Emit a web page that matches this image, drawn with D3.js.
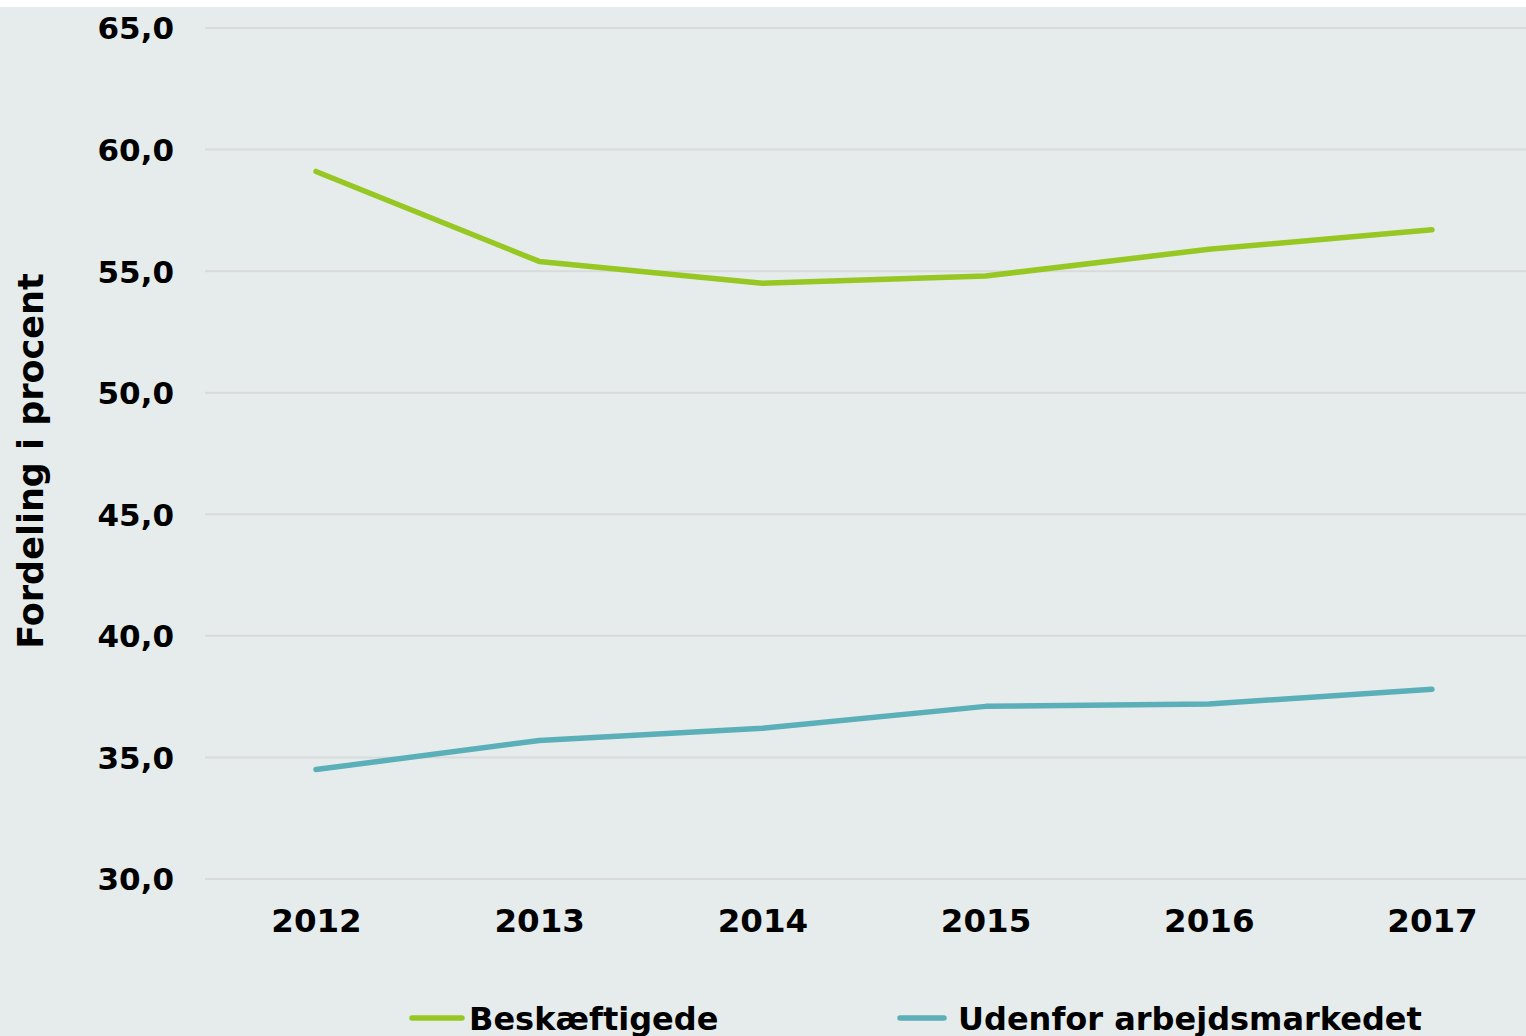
<!DOCTYPE html>
<html>
<head>
<meta charset="utf-8">
<script src="https://cdn.jsdelivr.net/npm/d3@7"></script>
<style>
  body { margin: 0; background: #fff; }
  svg { display: block; }
  text { font-family: "DejaVu Sans", Verdana, sans-serif; font-weight: bold; fill: #000; }
</style>
</head>
<body>
<main></main>
<script>
// data
const years = ["2012", "2013", "2014", "2015", "2016", "2017"];
const beskaeftigede = [59.1, 55.4, 54.5, 54.8, 55.9, 56.7];
const udenfor = [34.5, 35.7, 36.2, 37.1, 37.2, 37.8];
const seriesNames = ["Beskæftigede", "Udenfor arbejdsmarkedet"];
const yTicks = [30, 35, 40, 45, 50, 55, 60, 65];

const width = 1526;
const height = 1036;

const svg = d3.select("main")
  .append("svg")
  .attr("width", width)
  .attr("height", height);

// background panel
svg.append("rect")
  .attr("x", 0)
  .attr("y", 7)
  .attr("width", width)
  .attr("height", height - 7)
  .style("fill", "#e6ecec");

const xScale = d3.scalePoint()
  .domain(years)
  .range([316, 1432]);

const yScale = d3.scaleLinear()
  .domain([30, 65])
  .range([879, 28]);

// gridlines
svg.append("g")
  .selectAll("line")
  .data(yTicks)
  .enter()
  .append("line")
  .attr("x1", 205)
  .attr("x2", width)
  .attr("y1", d => yScale(d))
  .attr("y2", d => yScale(d))
  .style("stroke", "#d8dadb")
  .style("stroke-width", 2);

// y axis
const y_axis = d3.axisLeft(yScale)
  .tickValues(yTicks)
  .tickSize(0)
  .tickPadding(0)
  .tickFormat(d => d3.format(".1f")(d).replace(".", ","));

svg.append("g")
  .attr("transform", "translate(174,0)")
  .call(y_axis)
  .call(g => g.select(".domain").remove())
  .selectAll("text")
  .style("font-size", "31px")
  .attr("dy", "0.35em");

// x axis
const x_axis = d3.axisBottom(xScale)
  .tickSize(0)
  .tickPadding(0);

svg.append("g")
  .attr("transform", "translate(0,921)")
  .call(x_axis)
  .call(g => g.select(".domain").remove())
  .selectAll("text")
  .style("font-size", "32.5px")
  .attr("dy", "0.35em");

// y title
svg.append("text")
  .attr("transform", "translate(43,461) rotate(-90)")
  .attr("text-anchor", "middle")
  .style("font-size", "35px")
  .text("Fordeling i procent");

const line = d3.line()
  .x((d, i) => xScale(years[i]))
  .y(d => yScale(d));

const colors = ["#97c723", "#5bafb8"];

[beskaeftigede, udenfor].forEach((s, i) => {
  svg.append("path")
    .datum(s)
    .attr("d", line)
    .style("fill", "none")
    .style("stroke", colors[i])
    .style("stroke-width", 5.5)
    .style("stroke-linecap", "round")
    .style("stroke-linejoin", "round");
});

// legend
const legendX = [410, 898];
const legend = svg.append("g");
seriesNames.forEach((name, i) => {
  legend.append("line")
    .attr("x1", legendX[i] + 2)
    .attr("x2", legendX[i] + (i === 0 ? 52 : 46))
    .attr("y1", 1018)
    .attr("y2", 1018)
    .style("stroke", colors[i])
    .style("stroke-width", 5.5)
    .style("stroke-linecap", "round");
  legend.append("text")
    .attr("x", legendX[i] + (i === 0 ? 59 : 60))
    .attr("y", 1030)
    .style("font-size", "32px")
    .text(name);
});
</script>
</body>
</html>
